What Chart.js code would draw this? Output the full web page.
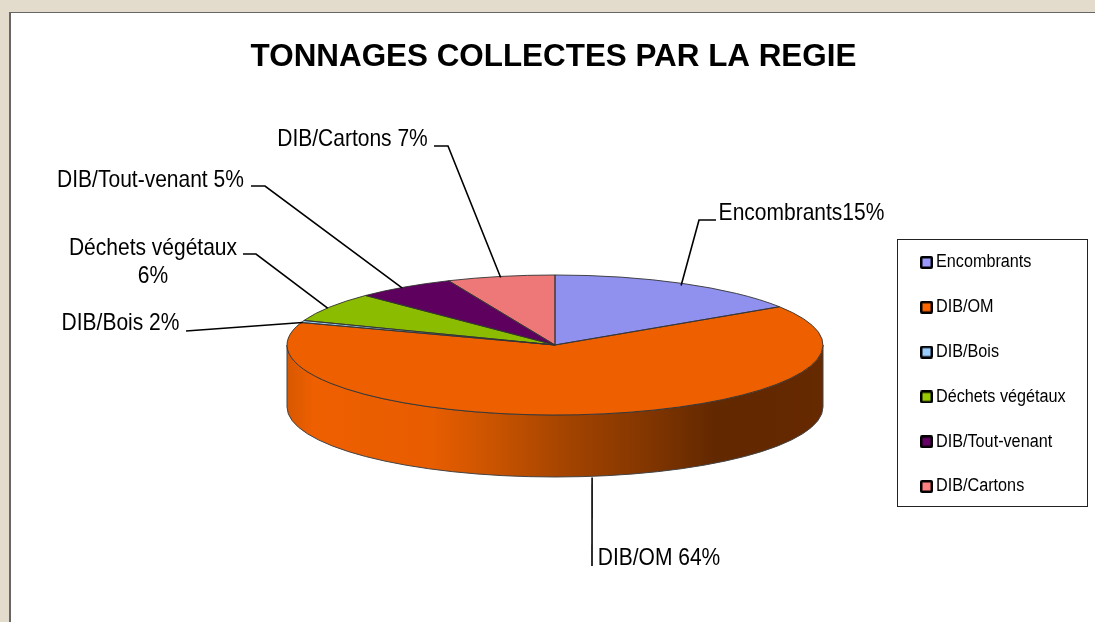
<!DOCTYPE html>
<html><head><meta charset="utf-8">
<style>
html,body{margin:0;padding:0;background:#e3dbcc;width:1095px;height:622px;overflow:hidden}
#panel{position:absolute;left:9px;top:12px;right:0;bottom:0;background:#fff;border-left:2px solid #666;border-top:1.5px solid #666}
canvas{position:absolute;left:0;top:0}
</style>
<script src="https://cdn.jsdelivr.net/npm/chart.js@4"></script>
</head><body>
<div id="panel"></div>
<canvas id="c" width="1095" height="622"></canvas>
<script>
const titleText = 'TONNAGES COLLECTES PAR LA REGIE';
const categories = ['Encombrants','DIB/OM','DIB/Bois','Déchets végétaux','DIB/Tout-venant','DIB/Cartons'];
const values = [15.8, 64.4, 0.5, 6.8, 6.0, 6.5];
const colors = ['#9090ee','#ee5f00','#99ccf5','#8cbc00','#5e005e','#ee7878'];
const legendColors = ['#9999ff','#ff6600','#99ccff','#99cc00','#660066','#ff8080'];
const sliceLabels = [['Encombrants15%'],['DIB/OM 64%'],['DIB/Bois 2%'],['Déchets végétaux','6%'],['DIB/Tout-venant 5%'],['DIB/Cartons 7%']];

const squash = 70/268, depth = 62;
const labelFont = '24px "Liberation Sans", Arial, sans-serif', labelStretch = 0.875;
const legendStretch = 0.9, legendTextX = 936;
// text centre, leader-line elbows and small anchor adjustment for each label
const labelLayout = [
 {x:801.5,y:213,path:[[716,220],[699,220]],dx:-1.5,dy:2},
 {x:659,y:558,path:[[592,566]],dx:3.5,dy:1},
 {x:120.5,y:323,path:[[186,331]],dx:0,dy:1},
 {x:153,y:248,path:[[243,254],[256,254]],lh:28,dx:-2,dy:1},
 {x:150.5,y:180,path:[[251,186],[265,186]],dx:-2,dy:1},
 {x:352.5,y:139,path:[[434,146],[448,146]],dx:0,dy:1}
];
const legendFrame = {left:897.5,top:239.5,width:190,height:267};

function swatch(color){
  const s=document.createElement('canvas');s.width=14;s.height=13;
  const g=s.getContext('2d');
  g.fillStyle='#000';g.beginPath();g.roundRect(0,0,14,13,2);g.fill();
  g.fillStyle=color;g.fillRect(2.5,2.5,9,8);
  return s;
}

const pie3d = {
  id:'pie3d',
  afterLayout(chart){
    const t=chart.titleBlock; if(t){t.left=9;t.right=1098;}
    const l=chart.legend;
    l.left=897.09;l.right=1115;l.top=226.7;l.bottom=622;
    if(!l._stretched){
      const draw=l.draw.bind(l); l._stretched=true;
      l.draw=function(area){
        const c=chart.ctx;
        c.save();c.translate(legendTextX,0);c.scale(legendStretch,1);c.translate(-legendTextX,0);
        draw(area);
        c.restore();
      };
    }
  },
  beforeDraw(chart){
    const c=chart.ctx,f=legendFrame;
    c.save();c.strokeStyle='#222';c.lineWidth=1;c.strokeRect(f.left,f.top,f.width,f.height);c.restore();
  },
  beforeDatasetsDraw(chart){
    const c=chart.ctx, arcs=chart.getDatasetMeta(0).data;
    const a0=arcs[0], R=a0.outerRadius, cx=a0.x, cy=a0.y, ry=R*squash;
    const grad=c.createLinearGradient(cx-R,0,cx+R,0);
    [[0,'#d85800'],[.05,'#ee5f00'],[.27,'#e85d00'],[.39,'#c85300'],[.52,'#a44400'],[.66,'#853700'],[.80,'#622800'],[1,'#662900']]
      .forEach(s=>grad.addColorStop(s[0],s[1]));
    arcs.forEach(a=>{
      const s=Math.max(a.startAngle,0), e=Math.min(a.endAngle,Math.PI);
      if(s>=e) return;
      c.save();
      c.beginPath();
      c.ellipse(cx,cy,R,ry,0,s,e);
      c.ellipse(cx,cy+depth,R,ry,0,e,s,true);
      c.closePath();
      c.fillStyle=grad;c.fill();
      c.strokeStyle='#444';c.lineWidth=1;c.stroke();
      c.restore();
    });
    c.save();
    c.translate(cx,cy);c.scale(1,squash);c.translate(-cx,-cy);
  },
  afterDatasetsDraw(chart){
    const c=chart.ctx;
    c.restore();
    const arcs=chart.getDatasetMeta(0).data;
    c.save();
    c.strokeStyle='#333';c.lineWidth=0.9;
    arcs.forEach(a=>{
      c.beginPath();c.moveTo(a.x,a.y);
      c.ellipse(a.x,a.y,a.outerRadius,a.outerRadius*squash,0,a.startAngle,a.endAngle);
      c.closePath();c.stroke();
    });
    c.strokeStyle='#000';c.lineWidth=1.6;c.fillStyle='#000';c.font=labelFont;
    c.textAlign='center';c.textBaseline='middle';
    arcs.forEach((a,i)=>{
      const mid=(a.startAngle+a.endAngle)/2, L=labelLayout[i];
      let ax=a.x+a.outerRadius*Math.cos(mid)+L.dx, ay=a.y+a.outerRadius*squash*Math.sin(mid)+L.dy;
      if(Math.sin(mid)>0) ay+=depth;
      c.beginPath();
      L.path.forEach((p,j)=>j?c.lineTo(p[0],p[1]):c.moveTo(p[0],p[1]));
      c.lineTo(ax,ay);c.stroke();
      sliceLabels[i].forEach((t,j)=>{
        c.save();c.translate(L.x,L.y+j*(L.lh||0));c.scale(labelStretch,1);c.fillText(t,0,0);c.restore();
      });
    });
    c.restore();
  }
};

new Chart(document.getElementById('c'),{
  type:'pie',
  data:{labels:categories,datasets:[{data:values,backgroundColor:colors,borderWidth:0}]},
  plugins:[pie3d],
  options:{
    responsive:false,animation:false,
    layout:{padding:{top:38.2,left:287,right:272,bottom:9}},
    plugins:{
      tooltip:{enabled:false},
      title:{display:true,text:titleText,color:'#000',padding:{top:0,bottom:1.1},
        font:{family:'"Liberation Sans", Arial, sans-serif',size:31.4,weight:'bold',lineHeight:1.2}},
      legend:{display:true,position:'chartArea',align:'start',
        labels:{usePointStyle:true,pointStyleWidth:3.11,boxHeight:13,padding:26.8,color:'#000',
          font:{family:'"Liberation Sans", Arial, sans-serif',size:18},
          generateLabels(chart){
            return categories.map((t,i)=>({text:t,fillStyle:legendColors[i],strokeStyle:'#000',lineWidth:0,pointStyle:swatch(legendColors[i]),index:i,hidden:false}));
          }}}
    }
  }
});
</script>
</body></html>
